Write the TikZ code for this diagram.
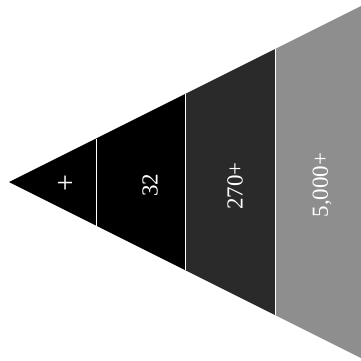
\documentclass[tikz,border=0pt]{standalone}
\usepackage{fontspec}
\setmainfont{Liberation Serif}
\definecolor{band3}{HTML}{2A2A2A}
\definecolor{band4}{HTML}{8E8E8E}
\begin{document}
\begin{tikzpicture}[x=1pt,y=1pt,
  lbl/.style={text=white,rotate=90,font=\fontsize{23}{23}\selectfont,inner sep=0pt},
  divider/.style={draw=white,line width=0.8pt}]
\useasboundingbox (0,0) rectangle (361,360);
% apex and band edges
\coordinate (apex) at (9,178);
\coordinate (t1) at (96,221.5);  \coordinate (b1) at (96,134.5);
\coordinate (t2) at (185,266);   \coordinate (b2) at (185,90);
\coordinate (t3) at (275,311);   \coordinate (b3) at (275,45);
\coordinate (t4) at (361,354);   \coordinate (b4) at (361,2);
% bands
\fill[black] (apex) -- (t1) -- (b1) -- cycle;
\fill[black] (t1) -- (t2) -- (b2) -- (b1) -- cycle;
\fill[band3] (t2) -- (t3) -- (b3) -- (b2) -- cycle;
\fill[band4] (t3) -- (t4) -- (b4) -- (b3) -- cycle;
% dividers
\draw[divider] (t1) -- (b1);
\draw[divider] (t2) -- (b2);
\draw[divider] (t3) -- (b3);
% labels
\node[lbl,font=\fontsize{30}{30}\selectfont] (l1) at (67,177) {+};
\node[lbl] (l2) at (150,175) {32};
\node[lbl] (l3) at (235,174) {270+};
\node[lbl] (l4) at (322,175) {5,000+};
\end{tikzpicture}
\end{document}
